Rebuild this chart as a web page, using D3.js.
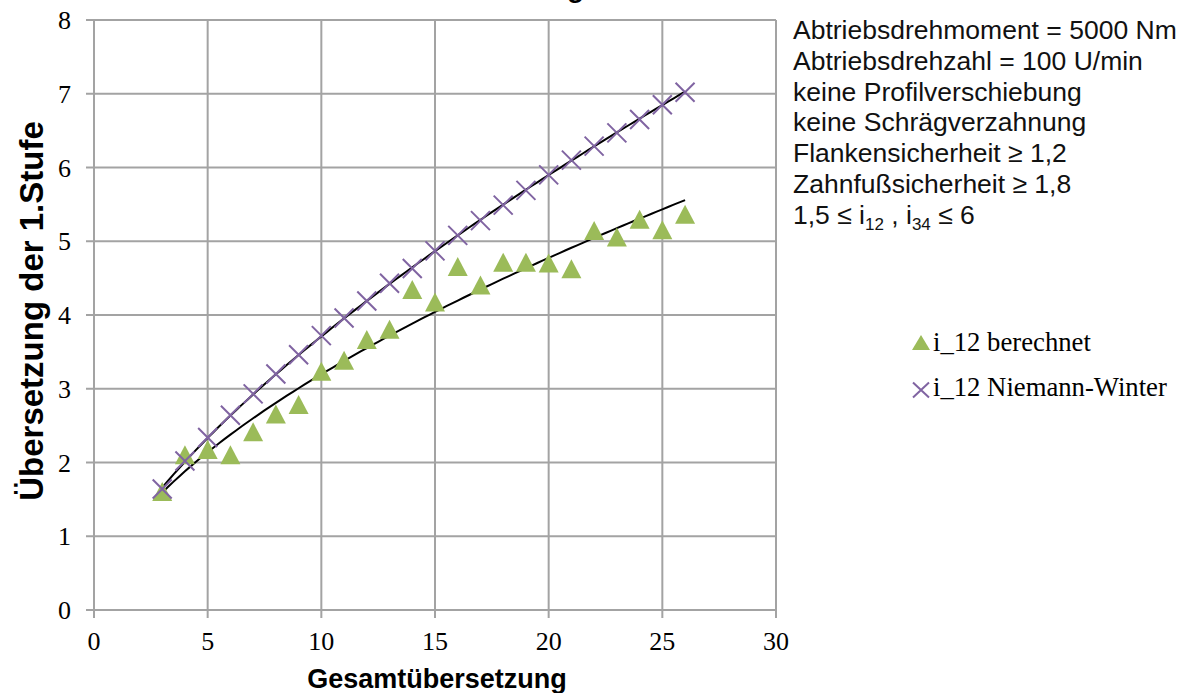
<!DOCTYPE html>
<html>
<head>
<meta charset="utf-8">
<script src="https://cdn.jsdelivr.net/npm/d3@7"></script>
<style>
  body { margin: 0; background: #fff; }
  svg { display: block; }
</style>
</head>
<body>
<script>
// Gesamtübersetzung (x) for both series
const gesamt = [3, 4, 5, 6, 7, 8, 9, 10, 11, 12, 13, 14, 15, 16, 17, 18, 19, 20, 21, 22, 23, 24, 25, 26];
// i_12 berechnet
const i12Berechnet = [1.60, 2.10, 2.17, 2.10, 2.41, 2.65, 2.78, 3.23, 3.38, 3.66, 3.80, 4.34,
                      4.17, 4.65, 4.40, 4.71, 4.71, 4.70, 4.62, 5.14, 5.05, 5.29, 5.15, 5.36];
// i_12 Niemann-Winter
const i12Niemann = [1.64, 2.02, 2.34, 2.64, 2.93, 3.20, 3.46, 3.72, 3.96, 4.19, 4.43, 4.63,
                    4.87, 5.08, 5.28, 5.49, 5.69, 5.90, 6.10, 6.29, 6.47, 6.65, 6.85, 7.02];

const xTicks = [0, 5, 10, 15, 20, 25, 30];
const yTicks = [0, 1, 2, 3, 4, 5, 6, 7, 8];

const notes = [
  "Abtriebsdrehmoment = 5000 Nm",
  "Abtriebsdrehzahl = 100 U/min",
  "keine Profilverschiebung",
  "keine Schrägverzahnung",
  "Flankensicherheit ≥ 1,2",
  "Zahnfußsicherheit ≥ 1,8"
];
const legendLabels = ["i_12 berechnet", "i_12 Niemann-Winter"];

const W = 1188, H = 693;
const green = "#9bbb59", purple = "#8064a2", grid = "#a3a3a3";
const serif = "'Liberation Serif', 'Times New Roman', serif";
const sans = "'Liberation Sans', Arial, sans-serif";

const svg = d3.select("body").append("svg")
  .attr("width", W)
  .attr("height", H);

const x = d3.scaleLinear().domain([0, 30]).range([94, 776]);
const y = d3.scaleLinear().domain([0, 8]).range([610, 20]);

// gridlines (plot frame included)
svg.append("g")
  .selectAll("line")
  .data(xTicks)
  .enter().append("line")
  .attr("x1", d => x(d)).attr("x2", d => x(d))
  .attr("y1", y(8)).attr("y2", y(0) + 8)
  .attr("stroke", grid).attr("stroke-width", 2);

svg.append("g")
  .selectAll("line")
  .data(yTicks)
  .enter().append("line")
  .attr("x1", x(0) - 8).attr("x2", x(30))
  .attr("y1", d => y(d)).attr("y2", d => y(d))
  .attr("stroke", grid).attr("stroke-width", 2);

// tick labels
svg.append("g")
  .selectAll("text")
  .data(xTicks)
  .enter().append("text")
  .attr("x", d => x(d))
  .attr("y", 650)
  .attr("text-anchor", "middle")
  .style("font-family", serif).style("font-size", "26px")
  .text(d => d);

svg.append("g")
  .selectAll("text")
  .data(yTicks)
  .enter().append("text")
  .attr("x", 71)
  .attr("y", d => y(d) + 9)
  .attr("text-anchor", "end")
  .style("font-family", serif).style("font-size", "26px")
  .text(d => d);

// axis titles
svg.append("text")
  .attr("x", 437).attr("y", 688)
  .attr("text-anchor", "middle")
  .style("font-family", sans).style("font-size", "27px").style("font-weight", "bold")
  .text("Gesamtübersetzung");

svg.append("text")
  .attr("transform", "translate(43,311) rotate(-90)")
  .attr("text-anchor", "middle")
  .style("font-family", sans).style("font-size", "33px").style("font-weight", "bold")
  .text("Übersetzung der 1.Stufe");

// chart title sits above the frame, only the descender of its last letter shows
svg.append("text")
  .attr("x", 584).attr("y", -3)
  .attr("text-anchor", "end")
  .style("font-family", sans).style("font-size", "28px").style("font-weight", "bold")
  .text("g");

// power trendlines (least squares on ln x / ln y, like the spreadsheet's)
function powerFit(xs, ys) {
  const lx = xs.map(Math.log), ly = ys.map(Math.log);
  const mx = d3.mean(lx), my = d3.mean(ly);
  const b = d3.sum(lx, (v, i) => (v - mx) * (ly[i] - my)) / d3.sum(lx, v => (v - mx) * (v - mx));
  const a = Math.exp(my - b * mx);
  return t => a * Math.pow(t, b);
}
const samples = d3.range(gesamt[0], gesamt[gesamt.length - 1] + 0.001, 0.25);
const line = d3.line().x(d => x(d[0])).y(d => y(d[1]));

[i12Berechnet, i12Niemann].forEach(series => {
  const f = powerFit(gesamt, series);
  svg.append("path")
    .attr("d", line(samples.map(t => [t, f(t)])))
    .attr("fill", "none")
    .attr("stroke", "#000")
    .attr("stroke-width", 2);
});

// markers
svg.append("g")
  .selectAll("path")
  .data(gesamt)
  .enter().append("path")
  .attr("transform", (d, i) => `translate(${x(d)},${y(i12Berechnet[i])})`)
  .attr("d", "M0,-10L10,9L-10,9Z")
  .attr("fill", green);

svg.append("g")
  .selectAll("path")
  .data(gesamt)
  .enter().append("path")
  .attr("transform", (d, i) => `translate(${x(d)},${y(i12Niemann[i])})`)
  .attr("d", "M-9.5,-9.5L9.5,9.5M-9.5,9.5L9.5,-9.5")
  .attr("fill", "none")
  .attr("stroke", purple)
  .attr("stroke-width", 2);

// notes block on the right
const noteG = svg.append("g")
  .style("font-family", sans).style("font-size", "26.5px").attr("fill", "#111");
notes.forEach((t, i) => {
  noteG.append("text").attr("x", 793).attr("y", 39 + i * 30.75).text(t);
});
const last = noteG.append("text").attr("x", 793).attr("y", 39 + 6 * 30.75);
last.append("tspan").text("1,5 ≤ i");
last.append("tspan").attr("dy", 6).style("font-size", "17px").text("12");
last.append("tspan").attr("dy", -6).text(" , i");
last.append("tspan").attr("dy", 6).style("font-size", "17px").text("34");
last.append("tspan").attr("dy", -6).text(" ≤ 6");

// legend
const leg = svg.append("g").style("font-family", serif).style("font-size", "26.7px");
leg.append("path")
  .attr("transform", "translate(921,343)")
  .attr("d", "M0,-8L9,7L-9,7Z")
  .attr("fill", green);
leg.append("path")
  .attr("transform", "translate(921,390)")
  .attr("d", "M-8,-7.5L8,7.5M-8,7.5L8,-7.5")
  .attr("stroke", purple).attr("stroke-width", 2);
legendLabels.forEach((t, i) => {
  leg.append("text").attr("x", 933).attr("y", 351 + i * 45).text(t);
});
</script>
</body>
</html>
